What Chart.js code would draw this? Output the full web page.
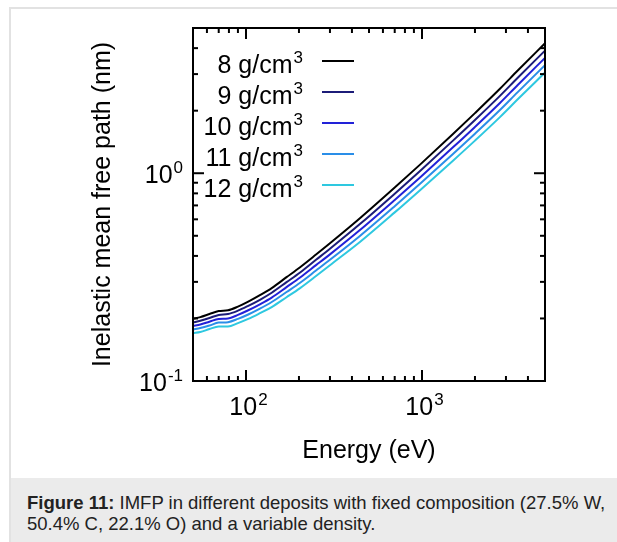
<!DOCTYPE html>
<html>
<head>
<meta charset="utf-8">
<script src="https://cdn.jsdelivr.net/npm/chart.js@4"></script>
<style>
  html, body { margin: 0; padding: 0; background: #fff; }
  body { width: 617px; height: 542px; position: relative; overflow: hidden; font-family: "Liberation Sans", Arial, sans-serif; }
  #box { position: absolute; left: 9px; top: 7px; width: 700px; height: 600px; border-left: 2px solid #e2e2e2; border-top: 2px solid #e2e2e2; }
  #caption { position: absolute; left: 11px; top: 478px; width: 606px; height: 64px; background: #ebebeb; }
  #caption p { margin: 0; position: absolute; left: 16px; top: 14px; font-size: 18.5px; line-height: 21px; color: #222; white-space: nowrap; }
  #myChart { position: absolute; left: 0; top: 0; }
</style>
</head>
<body>
<div id="box"></div>
<div id="caption"><p><b>Figure 11:</b> IMFP in different deposits with fixed composition (27.5% W,<br>50.4% C, 22.1% O) and a variable density.</p></div>
<canvas id="myChart" width="617" height="542"></canvas>
<script>
// Energy (eV) and inelastic mean free path (nm)
var energy = [50, 55, 62, 70, 79, 90, 103, 120, 140, 170, 203, 250, 300, 444, 700, 975, 1500, 2000, 2773, 3500, 5000];
var rho8  = [0.199, 0.203, 0.210, 0.217, 0.219, 0.228, 0.241, 0.259, 0.280, 0.316, 0.353, 0.406, 0.460, 0.607, 0.853, 1.100, 1.545, 1.947, 2.549, 3.120, 4.220];
var rho9  = [0.191, 0.195, 0.201, 0.208, 0.210, 0.218, 0.230, 0.246, 0.266, 0.299, 0.333, 0.383, 0.433, 0.569, 0.797, 1.025, 1.435, 1.804, 2.357, 2.881, 3.892];
var rho10 = [0.184, 0.187, 0.193, 0.199, 0.200, 0.208, 0.219, 0.234, 0.252, 0.283, 0.315, 0.361, 0.407, 0.533, 0.744, 0.955, 1.332, 1.671, 2.178, 2.660, 3.590];
var rho11 = [0.177, 0.180, 0.185, 0.191, 0.192, 0.199, 0.209, 0.223, 0.240, 0.268, 0.297, 0.340, 0.383, 0.499, 0.694, 0.889, 1.237, 1.549, 2.014, 2.456, 3.311];
var rho12 = [0.170, 0.172, 0.178, 0.183, 0.183, 0.190, 0.199, 0.212, 0.227, 0.253, 0.280, 0.320, 0.361, 0.467, 0.648, 0.829, 1.149, 1.435, 1.862, 2.268, 3.054];

var densities = ['8', '9', '10', '11', '12'];
var colors = ['#000000', '#1c1c78', '#2222d8', '#2a8ee8', '#2ec8e0'];

// axis ticks
var xMajorTicks = [100, 1000];
var xMajorExp = ['2', '3'];
var xMinorTicks = [50, 60, 70, 80, 90, 200, 300, 400, 500, 600, 700, 800, 900, 2000, 3000, 4000, 5000];
var yMajorTicks = [0.1, 1];
var yMajorExp = ['-1', '0'];
var yMinorTicks = [0.2, 0.3, 0.4, 0.5, 0.6, 0.7, 0.8, 0.9, 2, 3, 4];

var FONT = '"Liberation Sans", Arial, sans-serif';

function toPoints(values) {
    var pts = [];
    for (let i = 0; i < energy.length; i++) {
        pts.push({x: energy[i], y: values[i]});
    }
    return pts;
}

var series = [rho8, rho9, rho10, rho11, rho12];
var datasets = [];
for (let i = 0; i < series.length; i++) {
    datasets.push({
        label: densities[i] + ' g/cm3',
        data: toPoints(series[i]),
        borderColor: colors[i],
        borderWidth: 2,
        pointRadius: 0,
        fill: false,
        cubicInterpolationMode: 'monotone'
    });
}

// draws a "10" with a superscript exponent
function drawPower(ctx, base, exp, x, baseline, align) {
    ctx.font = '25px ' + FONT;
    var wb = ctx.measureText(base).width;
    ctx.font = '17px ' + FONT;
    var we = ctx.measureText(exp).width;
    var left = x;
    if (align === 'right') left = x - wb - we;
    if (align === 'center') left = x - (wb + we) / 2;
    ctx.textAlign = 'left';
    ctx.textBaseline = 'alphabetic';
    ctx.font = '25px ' + FONT;
    ctx.fillText(base, left, baseline);
    ctx.font = '17px ' + FONT;
    ctx.fillText(exp, left + wb + 1, baseline - 10);
}

var framePlugin = {
    id: 'frame',
    afterDatasetsDraw(chart) {
        var ctx = chart.ctx;
        var a = chart.chartArea;
        var xs = chart.scales.x;
        var ys = chart.scales.y;
        ctx.save();
        ctx.strokeStyle = '#000';
        ctx.fillStyle = '#000';
        ctx.lineWidth = 2;

        function seg(x1, y1, x2, y2) {
            ctx.beginPath();
            ctx.moveTo(x1, y1);
            ctx.lineTo(x2, y2);
            ctx.stroke();
        }

        // tick marks on all four sides, pointing inward
        xMajorTicks.forEach(function (v) {
            var p = xs.getPixelForValue(v);
            seg(p, a.bottom, p, a.bottom - 11);
            seg(p, a.top, p, a.top + 11);
        });
        xMinorTicks.forEach(function (v) {
            var p = xs.getPixelForValue(v);
            seg(p, a.bottom, p, a.bottom - 5);
            seg(p, a.top, p, a.top + 5);
        });
        yMajorTicks.forEach(function (v) {
            var p = ys.getPixelForValue(v);
            seg(a.left, p, a.left + 11, p);
            seg(a.right, p, a.right - 11, p);
        });
        yMinorTicks.forEach(function (v) {
            var p = ys.getPixelForValue(v);
            seg(a.left, p, a.left + 5, p);
            seg(a.right, p, a.right - 5, p);
        });

        ctx.strokeRect(a.left, a.top, a.right - a.left, a.bottom - a.top);

        // tick labels
        for (let i = 0; i < xMajorTicks.length; i++) {
            drawPower(ctx, '10', xMajorExp[i], xs.getPixelForValue(xMajorTicks[i]) + 2, a.bottom + 34, 'center');
        }
        for (let i = 0; i < yMajorTicks.length; i++) {
            drawPower(ctx, '10', yMajorExp[i], a.left - 11, ys.getPixelForValue(yMajorTicks[i]) + 10, 'right');
        }

        // axis titles
        ctx.font = '25px ' + FONT;
        ctx.textAlign = 'center';
        ctx.textBaseline = 'alphabetic';
        ctx.fillText('Energy (eV)', (a.left + a.right) / 2, a.bottom + 77);
        ctx.save();
        ctx.translate(a.left - 83, (a.top + a.bottom) / 2);
        ctx.rotate(-Math.PI / 2);
        ctx.fillText('Inelastic mean free path (nm)', 0, 0);
        ctx.restore();

        // legend: right-aligned label then a short line sample
        for (let i = 0; i < chart.data.datasets.length; i++) {
            var ds = chart.data.datasets[i];
            var ly = a.top + 33 + i * 31;
            var txt = densities[i] + ' g/cm';
            ctx.font = '17px ' + FONT;
            var w3 = ctx.measureText('3').width;
            ctx.font = '25px ' + FONT;
            ctx.textAlign = 'right';
            ctx.fillStyle = '#000';
            ctx.fillText(txt, a.left + 110 - w3 - 1, ly + 12);
            ctx.font = '17px ' + FONT;
            ctx.textAlign = 'left';
            ctx.fillText('3', a.left + 110 - w3, ly + 2);
            ctx.strokeStyle = ds.borderColor;
            seg(a.left + 129, ly, a.left + 161, ly);
        }
        ctx.restore();
    }
};

var myChart;

function drawChart() {
    const ctx = document.getElementById('myChart');
    myChart = new Chart(ctx, {
        type: 'line',
        data: { datasets: datasets },
        options: {
            responsive: false,
            animation: false,
            devicePixelRatio: 1,
            layout: { padding: { left: 193, top: 28, right: 72, bottom: 161 } },
            plugins: { legend: { display: false }, tooltip: { enabled: false } },
            scales: {
                x: { type: 'logarithmic', min: 50, max: 5000, display: false },
                y: { type: 'logarithmic', min: 0.1, max: 5, display: false }
            }
        },
        plugins: [framePlugin]
    });
}

drawChart();
</script>
</body>
</html>
